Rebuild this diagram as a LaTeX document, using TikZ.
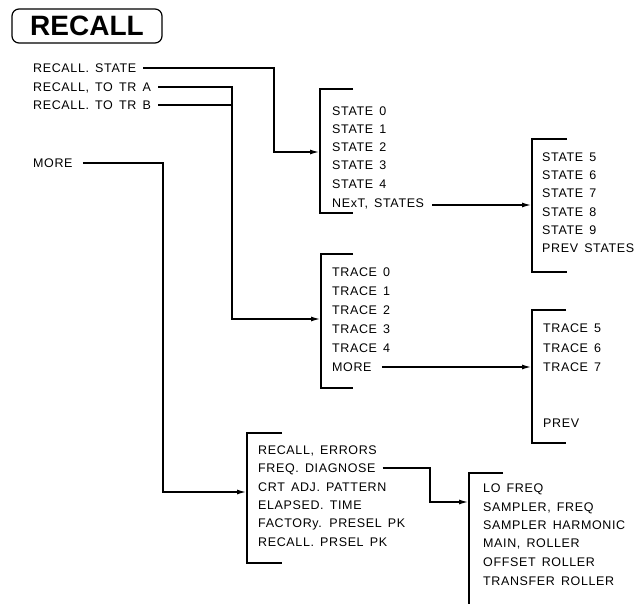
\documentclass[tikz,border=0pt]{standalone}
\usepackage{fontspec}
\setmainfont{Liberation Sans}
\newfontfamily\itemfont[LetterSpace=5,WordSpace=1.5]{Liberation Sans}
\usetikzlibrary{arrows.meta}
\begin{document}
\begin{tikzpicture}[x=1pt,y=-1pt,
  item/.style={anchor=west,inner sep=0pt,text height=9pt,text depth=0pt,
    font=\itemfont\fontsize{12.5}{12.5}\selectfont},
  wire/.style={line width=1.2pt},
  arr/.style={wire,-{Latex[length=9pt,width=5pt]}},
  brk/.style={line width=1.2pt}]
\useasboundingbox (0,0) rectangle (642,604);

% title
\node[draw,line width=1.2pt,rounded corners=7pt,minimum width=150pt,minimum height=34pt,
  inner sep=0pt,font=\bfseries\fontsize{28}{28}\selectfont] (title) at (87,26) {RECALL};

% left menu
\node[item] (rs) at (33,68) {RECALL. STATE};
\node[item] (ra) at (33,87) {RECALL, TO TR A};
\node[item] (rb) at (33,105) {RECALL. TO TR B};
\node[item] (mo) at (33,163) {MORE};

% state box
\draw[brk] (353,89) -- (320,89) -- (320,213) -- (353,213);
\node[item] (s0) at (332,111) {STATE 0};
\node[item] (s1) at (332,129) {STATE 1};
\node[item] (s2) at (332,147) {STATE 2};
\node[item] (s3) at (332,165) {STATE 3};
\node[item] (s4) at (332,184) {STATE 4};
\node[item] (ns) at (332,203) {NExT, STATES};

% state 5 box
\draw[brk] (567,139) -- (532,139) -- (532,272) -- (567,272);
\node[item] (s5) at (542,157) {STATE 5};
\node[item] (s6) at (542,175) {STATE 6};
\node[item] (s7) at (542,193) {STATE 7};
\node[item] (s8) at (542,212) {STATE 8};
\node[item] (s9) at (542,230) {STATE 9};
\node[item] (ps) at (542,248) {PREV STATES};

% trace box
\draw[brk] (353,254) -- (321,254) -- (321,388) -- (353,388);
\node[item] (t0) at (332,272) {TRACE 0};
\node[item] (t1) at (332,291) {TRACE 1};
\node[item] (t2) at (332,310) {TRACE 2};
\node[item] (t3) at (332,329) {TRACE 3};
\node[item] (t4) at (332,348) {TRACE 4};
\node[item] (tm) at (332,367) {MORE};

% trace 5 box
\draw[brk] (566,310) -- (532,310) -- (532,443) -- (566,443);
\node[item] (t5) at (543,328) {TRACE 5};
\node[item] (t6) at (543,348) {TRACE 6};
\node[item] (t7) at (543,367) {TRACE 7};
\node[item] (pt) at (543,423) {PREV};

% more box
\draw[brk] (282,433) -- (247,433) -- (247,563) -- (282,563);
\node[item] (m0) at (258,450) {RECALL, ERRORS};
\node[item] (fd) at (258,468) {FREQ. DIAGNOSE};
\node[item] (m2) at (258,487) {CRT ADJ. PATTERN};
\node[item] (m3) at (258,505) {ELAPSED. TIME};
\node[item] (m4) at (258,523) {FACTORy. PRESEL PK};
\node[item] (m5) at (258,542) {RECALL. PRSEL PK};

% diagnose box
\draw[brk] (503,473) -- (469,473) -- (469,604);
\node[item] (d0) at (483,488) {LO FREQ};
\node[item] (d1) at (483,507) {SAMPLER, FREQ};
\node[item] (d2) at (483,525) {SAMPLER HARMONIC};
\node[item] (d3) at (483,543) {MAIN, ROLLER};
\node[item] (d4) at (483,562) {OFFSET ROLLER};
\node[item] (d5) at (483,581) {TRANSFER ROLLER};

% connector coordinates
\coordinate (cS) at (274,152);
\coordinate (sIn) at (319,152);
\coordinate (cT) at (232,319);
\coordinate (tIn) at (320,319);
\coordinate (cM) at (163,492);
\coordinate (bIn) at (246,492);
\coordinate (s5x) at (531,0);
\coordinate (t5x) at (531,0);
\coordinate (cF) at (430,502);
\coordinate (lIn) at (468,502);

\draw[arr] ([xshift=7pt]rs.east) -- (rs.east -| cS) -- (cS) -- (sIn);
\draw[arr] ([xshift=7pt]ra.east) -- (ra.east -| cT) -- (cT) -- (tIn);
\draw[wire] ([xshift=7pt]rb.east) -- (rb.east -| cT);
\draw[arr] ([xshift=10pt]mo.east) -- (mo.east -| cM) -- (cM) -- (bIn);
\draw[arr] ([xshift=8pt,yshift=-2pt]ns.east) -- ([yshift=-2pt]ns.east -| s5x);
\draw[arr] ([xshift=10pt]tm.east) -- (tm.east -| t5x);
\draw[arr] ([xshift=7pt]fd.east) -- (fd.east -| cF) -- (cF) -- (lIn);
\end{tikzpicture}
\end{document}
